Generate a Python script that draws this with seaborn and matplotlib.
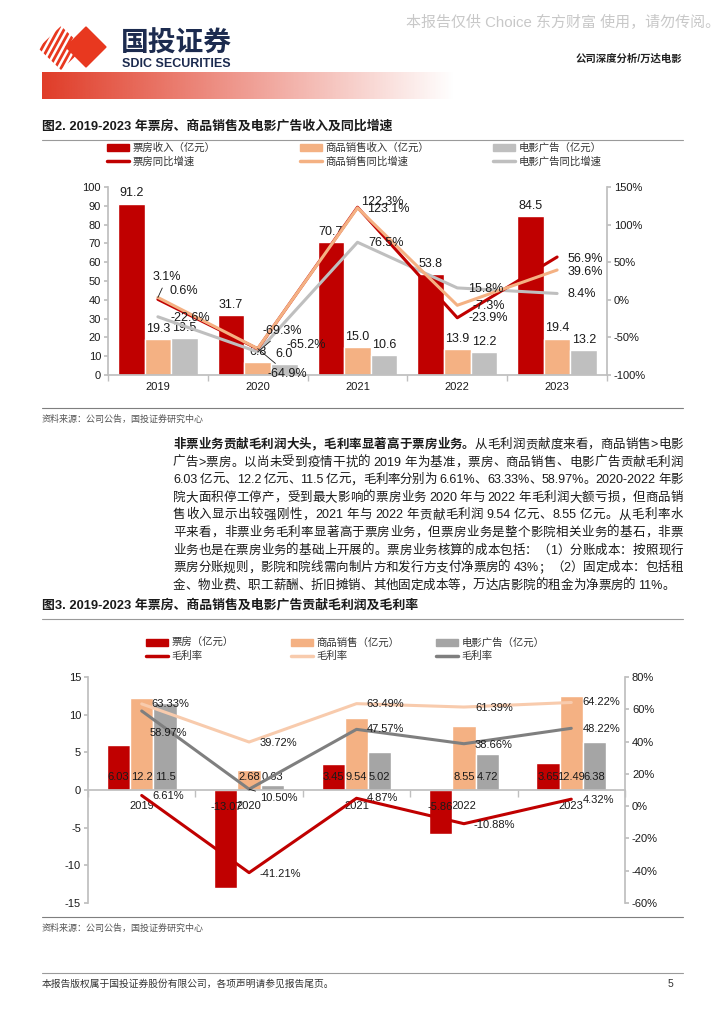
import re
import numpy as np
import pandas as pd
import matplotlib.pyplot as plt
import seaborn as sns
from matplotlib.patches import Patch, Polygon
from matplotlib.lines import Line2D

sns.set_theme(style='ticks')
plt.rcParams['font.family'] = ['Liberation Sans', 'Noto Sans CJK SC']
plt.rcParams['axes.unicode_minus'] = False

# ---- data ----
years = ['2019', '2020', '2021', '2022', '2023']

# 图2: revenue (亿元) and yoy growth (%)
s1_names = ['票房收入（亿元）', '商品销售收入（亿元）', '电影广告（亿元）']
s1_line_names = ['票房同比增速', '商品销售同比增速', '电影广告同比增速']
rev_box = [91.2, 31.7, 70.7, 53.8, 84.5]
rev_goods = [19.3, 6.8, 15.0, 13.9, 19.4]
rev_ads = [19.5, 6.0, 10.6, 12.2, 13.2]
yoy_box = [0.6, -65.2, 123.1, -23.9, 56.9]
yoy_goods = [3.1, -64.9, 122.3, -7.3, 39.6]
yoy_ads = [-22.6, -69.3, 76.5, 15.8, 8.4]

# 图3: gross profit (亿元) and gross margin (%)
s2_names = ['票房（亿元）', '商品销售（亿元）', '电影广告（亿元）']
s2_line_names = ['毛利率', '毛利率', '毛利率']
gp_box = [6.03, -13.07, 3.45, -5.86, 3.65]
gp_goods = [12.2, 2.68, 9.54, 8.55, 12.49]
gp_ads = [11.5, 0.63, 5.02, 4.72, 6.38]
gm_box = [6.61, -41.21, 4.87, -10.88, 4.32]
gm_goods = [63.33, 39.72, 63.49, 61.39, 64.22]
gm_ads = [58.97, 10.50, 47.57, 38.66, 48.22]

body_bold = '非票业务贡献毛利润大头，毛利率显著高于票房业务。'
body_lines = [
    '从毛利润贡献度来看，商品销售>电影',
    '广告>票房。以尚未受到疫情干扰的 2019 年为基准，票房、商品销售、电影广告贡献毛利润',
    '6.03 亿元、12.2 亿元、11.5 亿元，毛利率分别为 6.61%、63.33%、58.97%。2020-2022 年影',
    '院大面积停工停产，受到最大影响的票房业务 2020 年与 2022 年毛利润大额亏损，但商品销',
    '售收入显示出较强刚性，2021 年与 2022 年贡献毛利润 9.54 亿元、8.55 亿元。从毛利率水',
    '平来看，非票业务毛利率显著高于票房业务，但票房业务是整个影院相关业务的基石，非票',
    '业务也是在票房业务的基础上开展的。票房业务核算的成本包括：（1）分账成本：按照现行',
    '票房分账规则，影院和院线需向制片方和发行方支付净票房的 43%；（2）固定成本：包括租',
    '金、物业费、职工薪酬、折旧摊销、其他固定成本等，万达店影院的租金为净票房的 11%。',
]

RED = '#c00000'
ORANGE = '#f4b183'
LIGHT_ORANGE = '#f8cbad'
GRAY1 = '#bfbfbf'
GRAY2 = '#a5a5a5'
DGRAY = '#7f7f7f'
AXC = '#bfbfbf'
TXT = '#1a1a1a'

W, H = 724, 1024
fig = plt.figure(figsize=(7.24, 10.24), dpi=100)
bg = fig.add_axes([0, 0, 1, 1])
bg.axis('off')
bg.set_xlim(0, W)
bg.set_ylim(H, 0)
renderer = fig.canvas.get_renderer()


def fax(x0, y0, x1, y1):
    return fig.add_axes([x0 / W, 1 - y1 / H, (x1 - x0) / W, (y1 - y0) / H])


def justified(y, segments, x0, x1, size, stretch=True):
    # segments: list of (text, weight); place tokens so the line fills x0..x1
    toks = []
    for s, wt in segments:
        sp = 0
        for m in re.finditer(r'[\x21-\x7e]+| +|.', s):
            tk = m.group()
            if tk.startswith(' '):
                sp += len(tk)
                continue
            toks.append([tk, wt, sp, 0.0])
            sp = 0
    arts = []
    for tk in toks:
        a = bg.text(0, y, tk[0], fontsize=size, fontweight=tk[1], va='center', color=TXT)
        tk[3] = a.get_window_extent(renderer).width
        arts.append(a)
    space_w = size * 0.3
    total = sum(tk[3] + tk[2] * space_w for tk in toks)
    gap = (x1 - x0 - total) / (len(toks) - 1) if stretch and len(toks) > 1 else 0
    x = x0
    for tk, a in zip(toks, arts):
        x += tk[2] * space_w
        a.set_x(x)
        x += tk[3] + gap


# ---- page header ----
bg.text(720, 22, '本报告仅供 Choice 东方财富 使用，请勿传阅。', ha='right', va='center',
        fontsize=10.8, color='#c8c8c8')
logo_red = '#e8381f'
clip = Polygon([(38, 48), (61, 26), (84, 48), (61, 70)], closed=True, transform=bg.transData)
for x in range(30, 80, 6):
    ln, = bg.plot([x, x + 24], [70, 26], color=logo_red, lw=2.0, solid_capstyle='butt')
    ln.set_clip_path(clip)
bg.add_patch(Polygon([(66, 47), (86, 27), (106, 47), (86, 67)], closed=True, color=logo_red))
bg.text(121, 44, '国投证券', fontsize=20, fontweight='bold', color='#1c2b4f', va='center',
        family='Noto Sans CJK SC')
bg.text(122, 64, 'SDIC SECURITIES', fontsize=9, fontweight='bold', color='#1c2b4f',
        va='center', family=['Liberation Sans Narrow', 'Liberation Sans'])
bg.text(682, 59, '公司深度分析/万达电影', ha='right', va='center', fontsize=7.5,
        fontweight='bold', color='#222222')
t = np.linspace(0, 1, 256)
grad = np.zeros((1, 256, 4))
grad[..., 0] = 0xe0 / 255
grad[..., 1] = 0x3c / 255
grad[..., 2] = 0x28 / 255
grad[..., 3] = 1 - t
bg.imshow(grad, extent=[42, 455, 99, 72], aspect='auto', interpolation='bilinear')

# ---- chart 1 frame ----
bg.text(42, 126, '图2. 2019-2023 年票房、商品销售及电影广告收入及同比增速', fontsize=9.3,
        fontweight='bold', va='center', color=TXT)
bg.plot([42, 683], [140, 140], color='#9a9a9a', lw=0.8)
bg.plot([42, 683], [408, 408], color='#7f7f7f', lw=0.8)
bg.text(42, 419, '资料来源：公司公告，国投证券研究中心', fontsize=6.5, va='center', color='#555555')

# ---- body paragraph ----
y0 = 445
justified(y0, [(body_bold, 'bold'), (body_lines[0], 'normal')], 173, 683, 9)
for i, s in enumerate(body_lines[1:], start=1):
    justified(y0 + 17.6 * i, [(s, 'normal')], 173, 683, 9, stretch=i < len(body_lines) - 1)

# ---- chart 2 frame ----
bg.text(42, 605, '图3. 2019-2023 年票房、商品销售及电影广告贡献毛利润及毛利率', fontsize=9.3,
        fontweight='bold', va='center', color=TXT)
bg.plot([42, 683], [619, 619], color='#9a9a9a', lw=0.8)
bg.plot([42, 683], [917, 917], color='#7f7f7f', lw=0.8)
bg.text(42, 928, '资料来源：公司公告，国投证券研究中心', fontsize=6.5, va='center', color='#555555')

# ---- footer ----
bg.plot([42, 683], [973, 973], color='#9a9a9a', lw=0.8)
bg.text(42, 984, '本报告版权属于国投证券股份有限公司，各项声明请参见报告尾页。', fontsize=7,
        va='center', color='#333333')
bg.text(670, 984, '5', fontsize=7.5, va='center', ha='center', color='#333333')

bg.set_xlim(0, W)
bg.set_ylim(H, 0)

xpos = np.arange(len(years))


def col_legend(handles, labels, x, y):
    leg = fig.legend(handles, labels, loc='upper left', bbox_to_anchor=(x / W, 1 - y / H),
                     frameon=False, fontsize=7.5, borderpad=0, borderaxespad=0,
                     handlelength=2.1, handleheight=0.55, handletextpad=0.35,
                     labelspacing=0.3)
    for tx in leg.get_texts():
        tx.set_color('#333333')


def style_axes(ax, axr):
    ax.spines['top'].set_visible(False)
    ax.spines['right'].set_visible(False)
    for sp in ['top', 'left', 'bottom']:
        axr.spines[sp].set_visible(False)
    axr.spines['right'].set_color(AXC)
    ax.spines['left'].set_color(AXC)
    ax.spines['bottom'].set_color(AXC)
    ax.tick_params(axis='y', length=3, color=AXC, labelsize=8, labelcolor=TXT, pad=2)
    axr.tick_params(axis='y', length=3, color=AXC, labelsize=8, labelcolor=TXT, pad=2)
    ax.set_xlabel('')
    ax.set_ylabel('')
    axr.set_ylabel('')


def line_labels(ax, vals, fmt, offs, leaders, size):
    for i, v in enumerate(vals):
        kw = {}
        if i in leaders:
            kw['arrowprops'] = dict(arrowstyle='-', color=TXT, lw=0.6, shrinkA=1, shrinkB=0)
        ax.annotate(fmt.format(v), (xpos[i], v), xytext=offs[i], textcoords='offset pixels',
                    ha='left', va='center', fontsize=size, color=TXT, **kw)


# ---- chart 1 ----
df1 = pd.DataFrame({
    'year': years * 3,
    'series': [n for n in s1_names for _ in years],
    'value': rev_box + rev_goods + rev_ads,
})
ax1 = fax(108, 187, 607, 375)
sns.barplot(data=df1, x='year', y='value', hue='series', order=years, hue_order=s1_names,
            palette=[RED, ORANGE, GRAY1], width=0.8, saturation=1, errorbar=None,
            legend=False, ax=ax1)
for cont in ax1.containers:
    ax1.bar_label(cont, fmt='%.1f', padding=3, fontsize=9, color=TXT)
ax1r = ax1.twinx()
for vals, c in zip([yoy_ads, yoy_box, yoy_goods], [GRAY1, RED, ORANGE]):
    sns.lineplot(x=xpos, y=vals, ax=ax1r, color=c, linewidth=2.2)
off1_box = [(12, 8), (29, 4), (10, -2), (11, 0), (10, -2)]
off1_goods = [(-5, 20), (10, -25), (4, 6), (15, -1), (10, -2)]
off1_ads = [(13, -1), (5, 21), (11, -1), (11, -1), (10, -1)]
line_labels(ax1r, yoy_box, '{:.1f}%', off1_box, [], 9)
line_labels(ax1r, yoy_goods, '{:.1f}%', off1_goods, [0, 1], 9)
line_labels(ax1r, yoy_ads, '{:.1f}%', off1_ads, [1], 9)

ax1.set_ylim(0, 100)
ax1.set_yticks(range(0, 101, 10))
ax1r.set_ylim(-100, 150)
ax1r.set_yticks(range(-100, 151, 50))
ax1r.set_yticklabels([f'{v}%' for v in range(-100, 151, 50)])
ax1.set_xticks(xpos, years)
ax1.set_xticks(np.arange(-0.5, 5, 1), minor=True)
ax1.tick_params(axis='x', which='major', length=0, pad=5, labelsize=8, labelcolor=TXT)
ax1.tick_params(axis='x', which='minor', length=4, color=AXC)
ax1.set_xlim(-0.5, 4.5)
style_axes(ax1, ax1r)

col_legend([Patch(color=RED), Line2D([], [], color=RED, lw=2.5)],
           [s1_names[0], s1_line_names[0]], 107, 143)
col_legend([Patch(color=ORANGE), Line2D([], [], color=ORANGE, lw=2.5)],
           [s1_names[1], s1_line_names[1]], 300, 143)
col_legend([Patch(color=GRAY1), Line2D([], [], color=GRAY1, lw=2.5)],
           [s1_names[2], s1_line_names[2]], 493, 143)

# ---- chart 2 ----
df2 = pd.DataFrame({
    'year': years * 3,
    'series': [n for n in s2_names for _ in years],
    'value': gp_box + gp_goods + gp_ads,
})
ax2 = fax(88, 677, 625, 903)
sns.barplot(data=df2, x='year', y='value', hue='series', order=years, hue_order=s2_names,
            palette=[RED, ORANGE, GRAY2], width=0.65, saturation=1, errorbar=None,
            legend=False, ax=ax2)
for cont, vals in zip(ax2.containers, [gp_box, gp_goods, gp_ads]):
    for bar, v in zip(cont, vals):
        xc = bar.get_x() + bar.get_width() / 2
        ax2.annotate(f'{v:g}', (xc, 0), xytext=(0, 13 if v >= 0 else -17),
                     textcoords='offset pixels', ha='center', va='center', fontsize=8,
                     color=TXT)
ax2r = ax2.twinx()
for vals, c in zip([gm_box, gm_goods, gm_ads], [RED, LIGHT_ORANGE, DGRAY]):
    sns.lineplot(x=xpos, y=vals, ax=ax2r, color=c, linewidth=2.2)
off2_box = [(11, -1), (10, -1), (10, 0), (10, -1), (11, -1)]
off2_goods = [(10, 0), (10, -1), (10, 0), (11, -1), (11, 0)]
off2_ads = [(8, -22), (11, -9), (10, 0), (11, -1), (11, -1)]
line_labels(ax2r, gm_box, '{:.2f}%', off2_box, [], 8)
line_labels(ax2r, gm_goods, '{:.2f}%', off2_goods, [], 8)
line_labels(ax2r, gm_ads, '{:.2f}%', off2_ads, [1], 8)

ax2.set_ylim(-15, 15)
ax2.set_yticks(range(-15, 16, 5))
ax2r.set_ylim(-60, 80)
ax2r.set_yticks(range(-60, 81, 20))
ax2r.set_yticklabels([f'{v}%' for v in range(-60, 81, 20)])
ax2.spines['bottom'].set_position(('data', 0))
ax2.set_xticks(xpos, years)
ax2.set_xticks(np.arange(-0.5, 5, 1), minor=True)
ax2.tick_params(axis='x', which='major', length=0, pad=8, labelsize=8, labelcolor=TXT)
ax2.tick_params(axis='x', which='minor', length=5, color=AXC)
ax2.set_xlim(-0.5, 4.5)
style_axes(ax2, ax2r)

col_legend([Patch(color=RED), Line2D([], [], color=RED, lw=2.5)],
           [s2_names[0], s2_line_names[0]], 146, 638)
col_legend([Patch(color=ORANGE), Line2D([], [], color=LIGHT_ORANGE, lw=2.5)],
           [s2_names[1], s2_line_names[1]], 291, 638)
col_legend([Patch(color=GRAY2), Line2D([], [], color=DGRAY, lw=2.5)],
           [s2_names[2], s2_line_names[2]], 436, 638)

fig.savefig('out.png', dpi=100)
